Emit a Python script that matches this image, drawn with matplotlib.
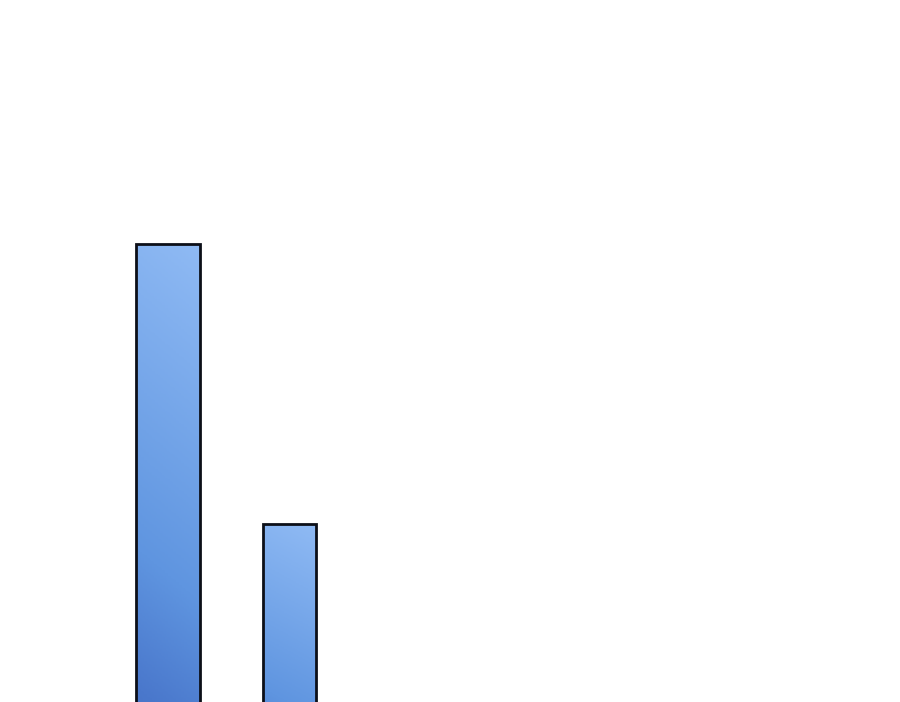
import numpy as np
import matplotlib
matplotlib.use("Agg")
import matplotlib.pyplot as plt
from matplotlib.colors import LinearSegmentedColormap

# two bars, the rest of the chart is cropped away
categories = ["A", "B"]
values = [87, 47]
widths = [0.52, 0.436]

fig = plt.figure(figsize=(9, 7.02), dpi=100)
ax = fig.add_axes([0, 0, 1, 1])
ax.set_xlim(-1.383, 6.025)
ax.set_ylim(21.57, 121.86)
ax.axis("off")

cmap = LinearSegmentedColormap.from_list(
    "bluegrad",
    [(0.0, "#3a62b5"), (0.25, "#4a78cc"), (0.46, "#5f95e0"), (1.0, "#8fbaf4")])

xs = np.arange(len(categories))
bars = ax.bar(xs, values, width=widths, bottom=0, color="none",
              edgecolor="#0c0f18", linewidth=2.0, zorder=3)

# gradient fill clipped to each bar: light at the top, darker towards the base
yy, xx = np.mgrid[0:1:200j, 0:1:40j]
grad = 0.92 * yy + 0.08 * xx
for b in bars:
    x0, y0 = b.get_x(), b.get_y()
    w, h = b.get_width(), b.get_height()
    im = ax.imshow(grad, cmap=cmap, origin="lower", aspect="auto",
                   extent=(x0, x0 + w, y0, y0 + h), zorder=2, vmin=0, vmax=1)
    im.set_clip_path(b)

fig.savefig("out.png", dpi=100)
